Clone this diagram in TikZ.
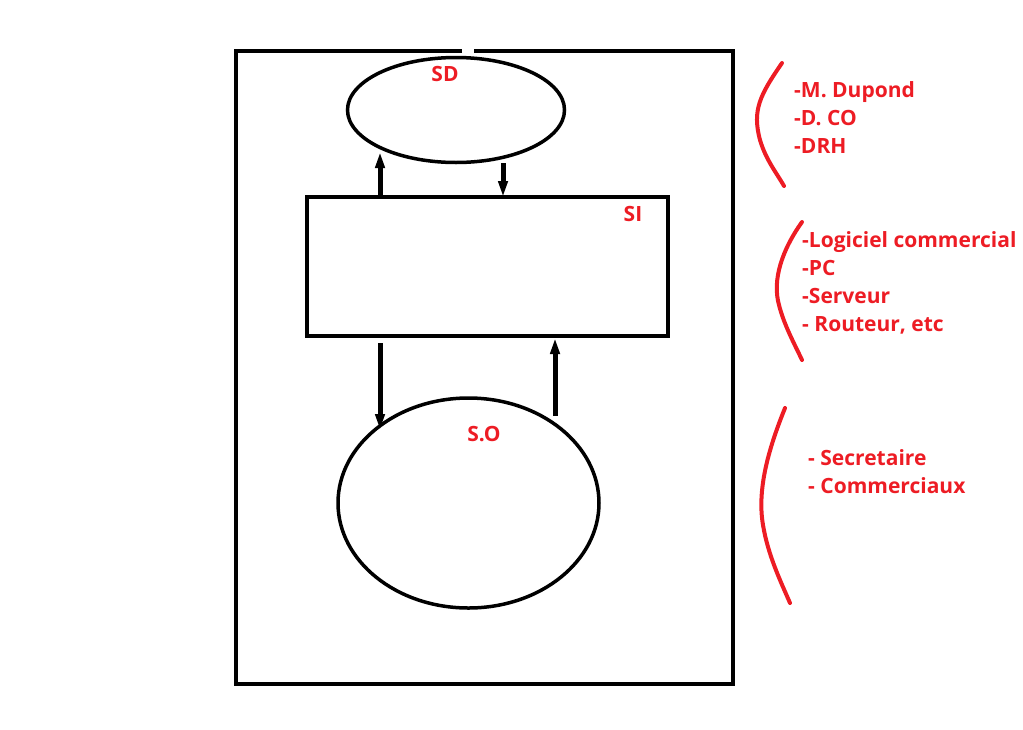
\documentclass[tikz,border=0pt]{standalone}
\usepackage{fontspec}
\setmainfont{Open Sans}
\usetikzlibrary{shapes.geometric,arrows.meta,calc}
\definecolor{pred}{RGB}{237,28,36}
\begin{document}
\begin{tikzpicture}[x=1pt,y=-1pt,
  frame/.style={line width=4.5pt},
  blk/.style={draw=black,line width=3.5pt,inner sep=0pt},
  arr/.style={line width=5pt,-{Triangle[length=16pt,width=9pt]}},
  lbl/.style={text=pred,font=\bfseries\fontsize{21}{28}\selectfont,inner sep=0pt},
  lst/.style={lbl,align=left,anchor=north west},
  brk/.style={draw=pred,line width=4pt,line cap=round}]
\useasboundingbox (0,0) rectangle (1023,729);
% outer frame with gap at top
\draw[frame] (462,51) -- (236,51) -- (236,684) -- (733,684) -- (733,51) -- (474,51);
% nodes
\node[blk,ellipse,minimum width=217pt,minimum height=105pt] (sd) at (456,110) {};
\node[blk,rectangle,minimum width=361pt,minimum height=139pt] (si) at (487.5,266.5) {};
\node[blk,ellipse,minimum width=261pt,minimum height=210pt] (so) at (468.5,503) {};
\node[lbl] (sdl) at (445,74) {SD};
\node[lbl] (sil) at (633,214) {SI};
\node[lbl] (sol) at (484,434) {S.O};
% arrow ends
\coordinate (a1s) at (380,197);
\coordinate (a1e) at (380,152);
\coordinate (a2s) at (503,163);
\coordinate (a2e) at (503,197);
\coordinate (a3s) at (380,343);
\coordinate (a3e) at (380,430);
\coordinate (a4s) at (555,416);
\coordinate (a4e) at (555,338);
\draw[arr] (a1s) -- (a1e);
\draw[arr] (a2s) -- (a2e);
\draw[arr] (a3s) -- (a3e);
\draw[arr] (a4s) -- (a4e);
% red brackets
\draw[brk] (782,63) .. controls (760,95) and (752,110) .. (760,140) .. controls (766,160) and (776,172) .. (784,186);
\draw[brk] (802,222) .. controls (782,250) and (772,280) .. (779,305) .. controls (784,325) and (795,345) .. (802,360);
\draw[brk] (785,408) .. controls (768,450) and (757,490) .. (763,525) .. controls (768,555) and (780,580) .. (790,603);
% lists
\node[lst] (l1) at (794,81) {-M. Dupond\\-D. CO\\-DRH};
\node[lst] (l2) at (802,231) {-Logiciel commercial\\-PC\\-Serveur\\- Routeur, etc};
\node[lst] (l3) at (808,449) {- Secretaire\\- Commerciaux};
\end{tikzpicture}
\end{document}
